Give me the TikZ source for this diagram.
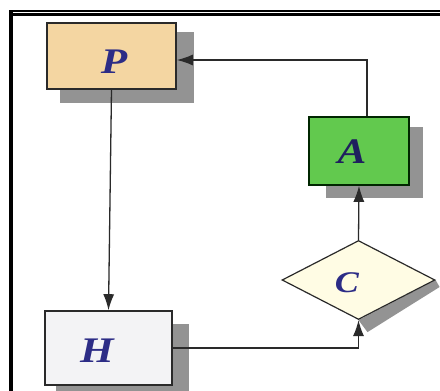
\documentclass[tikz,border=0pt]{standalone}
\usepackage{fontspec}
\setmainfont{Liberation Serif}
\newfontfamily\lblfont{Liberation Serif}[FakeStretch=1.2]
\usetikzlibrary{arrows.meta,shapes.geometric,calc}
\pgfdeclarelayer{background}
\pgfsetlayers{background,main}
\definecolor{pfill}{HTML}{F4D6A2}
\definecolor{afill}{HTML}{62C94E}
\definecolor{hfill}{HTML}{F3F3F5}
\definecolor{cfill}{HTML}{FFFCE4}
\definecolor{shadowc}{HTML}{939393}
\definecolor{labelc}{HTML}{2C2C86}
\definecolor{edgec}{HTML}{2A2A2A}
\tikzset{
  box/.style={draw=edgec, line width=1.6pt, rectangle, inner sep=0pt},
  diam/.style={draw=edgec, line width=1.2pt, diamond, inner sep=0pt,
               minimum width=153pt, minimum height=79pt},
  lbl/.style={anchor=base, text=labelc, inner sep=0pt,
              font=\lblfont\fontsize{36}{36}\selectfont\bfseries\itshape},
  arr/.style={draw=edgec, line width=1.3pt, -{Latex[length=16pt,width=11pt]}},
}
\begin{document}
\begin{tikzpicture}[x=1pt,y=-1pt]
\useasboundingbox (0,0) rectangle (440,391);
% frame
\draw[line width=3.6pt] (10.8,10) -- (10.8,391);
\draw[line width=2.2pt] (9,11) -- (440,11);
\draw[line width=2.2pt] (12.6,14.5) -- (440,14.5);
% blocks
\node[box, fill=pfill, minimum width=129pt, minimum height=66pt] (P) at (111.5,56) {};
\node[box, fill=afill, draw=black!85!green, minimum width=100pt, minimum height=68pt] (A) at (359,151) {};
\node[box, fill=hfill, minimum width=127pt, minimum height=74pt] (H) at (108.5,348) {};
\node[diam, fill=cfill] (C) at (358.5,280) {};
% drop shadows
\begin{pgfonlayer}{background}
\fill[white] (0,0) rectangle (440,391);
\fill[shadowc] ($(P.south west)+(14,13)$) rectangle ($(P.north east)+(17,10)$);
\fill[shadowc] ($(A.south west)+(18,12)$) rectangle ($(A.north east)+(13,11)$);
\fill[shadowc] ($(H.south west)+(12,14)$) rectangle ($(H.north east)+(16,14)$);
\fill[shadowc] (C.east) -- (C.south) -- ($(C.south)+(9,12)$) -- ($(C.east)+(4,7)$) -- cycle;
\end{pgfonlayer}
% labels
\node[lbl] (Pl) at (114,73) {P};
\node[lbl, text=labelc!70!black] (Al) at (352,163) {A};
\node[lbl] (Hl) at (97,362) {H};
\node[lbl, font=\lblfont\fontsize{30}{30}\selectfont\bfseries\itshape] (Cl) at (347,292) {C};
% connectors
\draw[arr] (P.south) -- (H.north);
\draw[arr] (H.east) -| (C.south);
\draw[arr] (C.north) -- (A.south);
\draw[arr] ($(A.north)+(8,0)$) |- ([yshift=-4pt]P.east);
\end{tikzpicture}
\end{document}
